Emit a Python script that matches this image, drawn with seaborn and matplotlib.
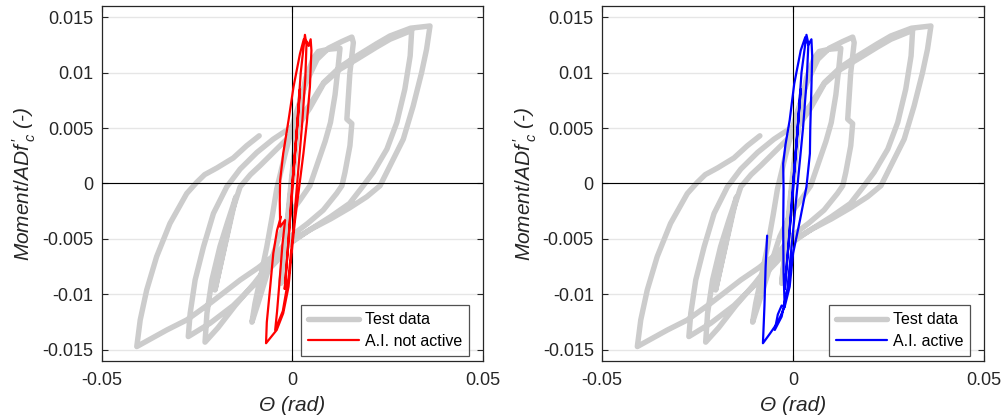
import matplotlib
matplotlib.use("Agg")
import matplotlib.pyplot as plt
import numpy as np
import pandas as pd
import seaborn as sns

# Measured cyclic response (rotation, normalised moment)
test_theta = [
    0.0000, 0.0010, 0.0022, 0.0012, -0.0005, -0.0018, -0.0030, -0.0018, -0.0005,
    0.0015, 0.0035, 0.0055, 0.0068, 0.0095, 0.0125,
    0.0120, 0.0112, 0.0100, 0.0086, 0.0064, 0.0046, 0.0020, -0.0006, -0.0035, -0.0065, -0.0090, -0.0106,
    -0.0098, -0.0085, -0.0067, -0.0052, -0.0041, -0.0020, 0.0005, 0.0035, 0.0065, 0.0095, 0.0130, 0.0156,
    0.0160, 0.0151, 0.0143, 0.0156, 0.0151, 0.0138, 0.0130, 0.0116, 0.0081, 0.0040, -0.0006, -0.0050,
    -0.0100, -0.0150, -0.0195, -0.0229,
    -0.0224, -0.0211, -0.0190, -0.0170, -0.0148, -0.0203, -0.0158, -0.0137, -0.0110, -0.0085, -0.0041,
    0.0003, 0.0046, 0.0082, 0.0125, 0.0169, 0.0221, 0.0256, 0.0313,
    0.0309, 0.0295, 0.0274, 0.0248, 0.0212, 0.0186, 0.0150, 0.0100, 0.0040, -0.0006, -0.0041, -0.0102,
    -0.0155, -0.0216, -0.0273,
    -0.0268, -0.0255, -0.0233, -0.0207, -0.0172, -0.0137, -0.0093, -0.0050, 0.0003, 0.0046, 0.0082,
    0.0125, 0.0169, 0.0221, 0.0256, 0.0310, 0.0361,
    0.0352, 0.0339, 0.0317, 0.0291, 0.0256, 0.0230, 0.0195, 0.0150, 0.0100, 0.0050, 0.0007, -0.0041,
    -0.0090, -0.0137, -0.0216, -0.0277, -0.0329, -0.0408,
    -0.0399, -0.0382, -0.0356, -0.0321, -0.0277, -0.0251, -0.0230, -0.0198, -0.0155, -0.0120, -0.0087,
]
test_moment = [
    0.0000, 0.0040, 0.0080, 0.0045, -0.0010, -0.0055, -0.0090, -0.0050, -0.0005,
    0.0060, 0.0095, 0.0113, 0.0119, 0.0121, 0.0122,
    0.0105, 0.0080, 0.0055, 0.0038, 0.0016, -0.0002, -0.0015, -0.0027, -0.0048, -0.0080, -0.0108, -0.0125,
    -0.0108, -0.0087, -0.0057, -0.0028, -0.0005, 0.0025, 0.0058, 0.0090, 0.0112, 0.0122, 0.0128, 0.0132,
    0.0127, 0.0100, 0.0058, 0.0054, 0.0034, 0.0010, -0.0002, -0.0009, -0.0024, -0.0036, -0.0048, -0.0068,
    -0.0090, -0.0110, -0.0130, -0.0143,
    -0.0117, -0.0087, -0.0057, -0.0035, -0.0012, -0.0096, -0.0025, -0.0003, 0.0008, 0.0016, 0.0031,
    0.0046, 0.0068, 0.0090, 0.0103, 0.0112, 0.0123, 0.0130, 0.0138,
    0.0115, 0.0085, 0.0055, 0.0031, 0.0010, -0.0002, -0.0018, -0.0030, -0.0043, -0.0054, -0.0070, -0.0092,
    -0.0110, -0.0126, -0.0138,
    -0.0117, -0.0087, -0.0057, -0.0027, -0.0003, 0.0013, 0.0028, 0.0040, 0.0052, 0.0071, 0.0091,
    0.0105, 0.0115, 0.0126, 0.0133, 0.0140, 0.0142,
    0.0121, 0.0100, 0.0070, 0.0040, 0.0016, -0.0002, -0.0012, -0.0022, -0.0032, -0.0041, -0.0050, -0.0063,
    -0.0076, -0.0087, -0.0108, -0.0123, -0.0132, -0.0147,
    -0.0123, -0.0096, -0.0066, -0.0036, -0.0009, 0.0001, 0.0008, 0.0014, 0.0023, 0.0034, 0.0043,
]

# Simulation without the A.I. component
sim_off_theta = [
    0.0000, 0.0010, 0.0020, 0.0015, 0.0000, -0.0012, -0.0020, -0.0012, 0.0000, 0.0012, 0.0022, 0.0033,
    0.0037, 0.0034, 0.0026, 0.0015, 0.0003, -0.0010, -0.0025, -0.0045,
    -0.0040, -0.0034, -0.0026, -0.0019, -0.0032, -0.0033, -0.0032, -0.0024, -0.0010, 0.0003, 0.0020,
    0.0030, 0.0038, 0.0043, 0.0048,
    0.0050, 0.0046, 0.0038, 0.0029, 0.0018, 0.0007, -0.0002, -0.0010, -0.0024, -0.0041, -0.0069,
    -0.0067, -0.0058, -0.0050, -0.0040, -0.0030,
]
sim_off_moment = [
    0.0000, 0.0040, 0.0085, 0.0060, 0.0000, -0.0060, -0.0095, -0.0060, -0.0005, 0.0050, 0.0100, 0.0134,
    0.0125, 0.0095, 0.0055, 0.0010, -0.0040, -0.0085, -0.0115, -0.0132,
    -0.0115, -0.0090, -0.0055, -0.0033, -0.0039, -0.0015, 0.0003, 0.0027, 0.0057, 0.0087, 0.0117,
    0.0130, 0.0128, 0.0124, 0.0130,
    0.0120, 0.0087, 0.0055, 0.0027, -0.0003, -0.0033, -0.0063, -0.0093, -0.0117, -0.0132, -0.0144,
    -0.0125, -0.0093, -0.0063, -0.0042, -0.0030,
]

# Simulation with the A.I. component
sim_on_theta = [
    0.0000, 0.0010, 0.0020, 0.0012, 0.0000, -0.0012, -0.0022, -0.0012, 0.0000, 0.0012, 0.0022, 0.0035,
    0.0040, 0.0036, 0.0026, 0.0012, -0.0002, -0.0015, -0.0030, -0.0048,
    -0.0040, -0.0030, -0.0022, -0.0025, -0.0026, -0.0025, -0.0026, -0.0020, -0.0009, 0.0003, 0.0020,
    0.0032, 0.0040, 0.0048,
    0.0050, 0.0048, 0.0045, 0.0044, 0.0035, 0.0018, 0.0000, -0.0009, -0.0022, -0.0040, -0.0060, -0.0079,
    -0.0075, -0.0072, -0.0068,
]
sim_on_moment = [
    0.0000, 0.0040, 0.0085, 0.0050, 0.0000, -0.0055, -0.0095, -0.0055, -0.0005, 0.0050, 0.0100, 0.0134,
    0.0126, 0.0095, 0.0050, 0.0000, -0.0050, -0.0095, -0.0120, -0.0132,
    -0.0118, -0.0110, -0.0111, -0.0080, -0.0040, -0.0005, 0.0018, 0.0035, 0.0057, 0.0090, 0.0120,
    0.0132, 0.0125, 0.0130,
    0.0115, 0.0087, 0.0050, 0.0027, -0.0003, -0.0033, -0.0063, -0.0093, -0.0111, -0.0125, -0.0135, -0.0144,
    -0.0110, -0.0075, -0.0047,
]

x_ticks = [-0.05, 0.0, 0.05]
x_ticklabels = ["-0.05", "0", "0.05"]
y_ticks = [-0.015, -0.01, -0.005, 0.0, 0.005, 0.01, 0.015]
y_ticklabels = ["-0.015", "-0.01", "-0.005", "0", "0.005", "0.01", "0.015"]

panels = [
    ("A.I. not active", sim_off_theta, sim_off_moment, "#ff0000"),
    ("A.I. active", sim_on_theta, sim_on_moment, "#0000ff"),
]

sns.set_theme(style="white")
plt.rcParams["font.family"] = ["Liberation Sans", "DejaVu Sans"]
plt.rcParams["mathtext.fontset"] = "custom"
plt.rcParams["mathtext.rm"] = "Liberation Sans"
plt.rcParams["mathtext.it"] = "Liberation Sans:italic"

test_df = pd.DataFrame({"theta": test_theta, "moment": test_moment})

W, H = 1003, 419
fig = plt.figure(figsize=(W / 100, H / 100), dpi=100)
axes_px = [(101.7, 381.3), (602.2, 381.8)]
dark = "#262626"

for (left, width), (name, sx, sy, col) in zip(axes_px, panels):
    ax = fig.add_axes([left / W, 58 / H, width / W, 355 / H])
    sim_df = pd.DataFrame({"theta": sx, "moment": sy})

    ax.set_axisbelow(True)
    ax.yaxis.grid(True, color="#e6e6e6", lw=1.0)
    ax.xaxis.grid(False)

    sns.lineplot(data=test_df, x="theta", y="moment", sort=False, estimator=None,
                 color="#cccccc", lw=3.9, ax=ax, label="Test data", zorder=2,
                 solid_joinstyle="round", solid_capstyle="round")
    ax.axhline(0, color="black", lw=0.8, zorder=3)
    ax.axvline(0, color="black", lw=0.8, zorder=3)
    sns.lineplot(data=sim_df, x="theta", y="moment", sort=False, estimator=None,
                 color=col, lw=1.6, ax=ax, label=name, zorder=4)

    ax.set_xlim(-0.05, 0.05)
    ax.set_ylim(-0.016, 0.016)
    ax.set_xticks(x_ticks)
    ax.set_xticklabels(x_ticklabels)
    ax.set_yticks(y_ticks)
    ax.set_yticklabels(y_ticklabels)
    ax.tick_params(direction="in", length=4, width=0.8, color=dark, labelcolor=dark,
                   labelsize=13, top=True, right=True, bottom=True, left=True)
    ax.tick_params(axis="x", pad=8)
    ax.tick_params(axis="y", pad=6)
    for sp in ax.spines.values():
        sp.set_color(dark)
        sp.set_linewidth(0.9)

    ax.set_xlabel("\u0398 (rad)", fontsize=15, style="italic", color=dark, labelpad=5)
    ax.set_ylabel(r"$Moment/ADf\,_{c}^{\prime}$ (-)", fontsize=15, style="italic",
                  color=dark, labelpad=3)

    leg = ax.legend(loc="lower right", bbox_to_anchor=(0.964, 0.014), borderaxespad=0,
                    frameon=True, fancybox=False, fontsize=11.5, handlelength=3.2,
                    handletextpad=0.35, borderpad=0.45, labelspacing=0.4)
    leg.get_frame().set_edgecolor(dark)
    leg.get_frame().set_linewidth(0.9)
    for t in leg.get_texts():
        t.set_color("black")

fig.savefig("out.png", dpi=100)
